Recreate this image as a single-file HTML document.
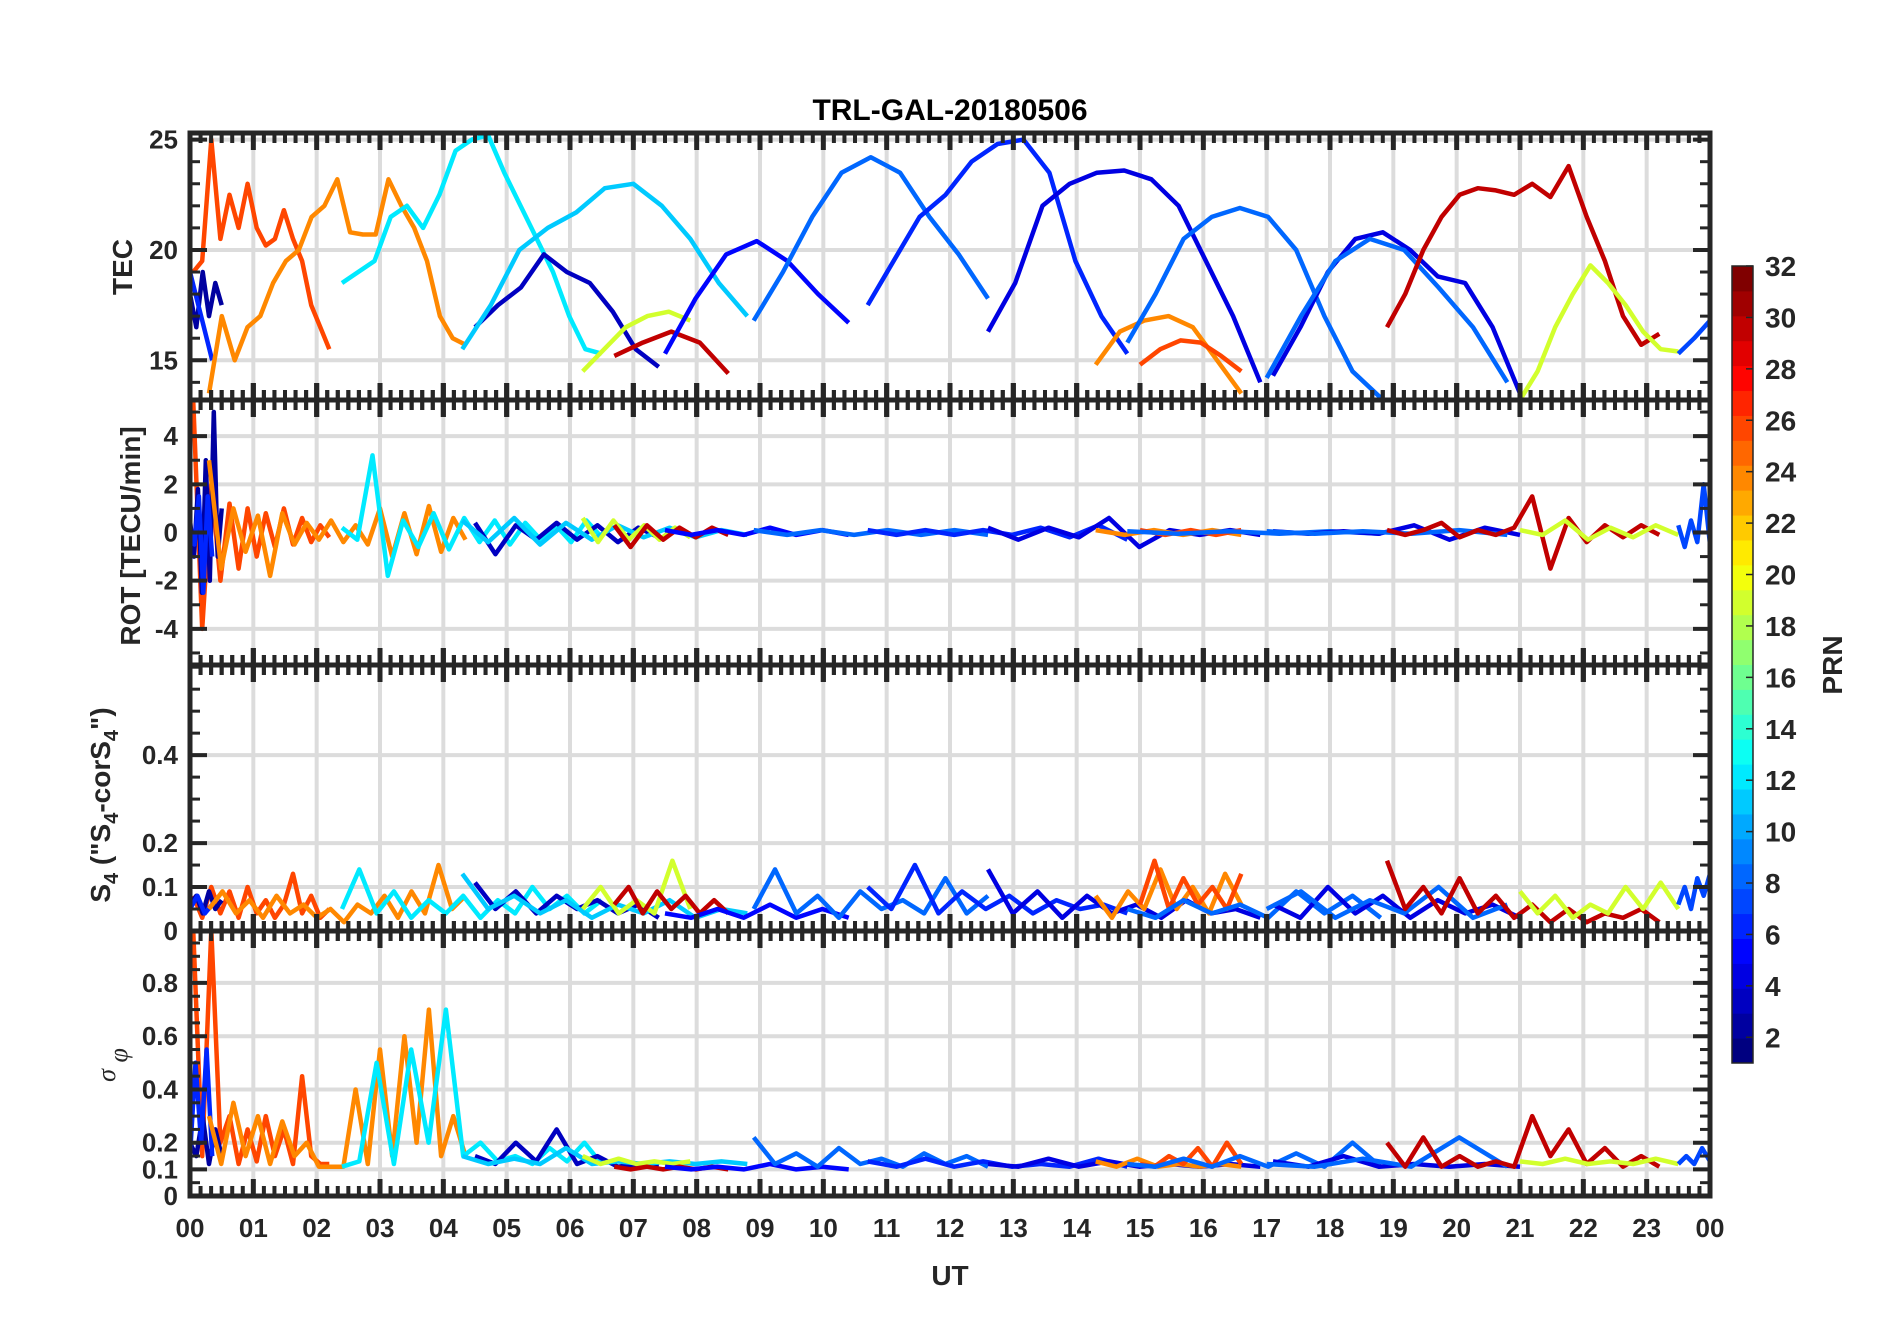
<!DOCTYPE html>
<html><head><meta charset="utf-8"><style>
body{margin:0;background:#fff;}
svg text{font-family:"Liberation Sans",sans-serif;font-weight:bold;fill:#262626;}
</style></head><body>
<svg id="chart" width="1902" height="1330" viewBox="0 0 1902 1330" xmlns="http://www.w3.org/2000/svg">
<rect x="0" y="0" width="1902" height="1330" fill="#fff"/>
<text x="950" y="120" text-anchor="middle" font-size="30" style="fill:#000">TRL-GAL-20180506</text>
<g id="grid"></g>
<g id="series"></g>
<g id="axes"></g>
<g id="cbar"></g>
<text transform="translate(132,267) rotate(-90)" text-anchor="middle" font-size="28">TEC</text>
<text transform="translate(140,536) rotate(-90)" text-anchor="middle" font-size="28">ROT [TECU/min]</text>
<text transform="translate(110,805) rotate(-90)" text-anchor="middle" font-size="28">S<tspan font-size="20" dy="8">4</tspan><tspan dy="-8"> ("S</tspan><tspan font-size="20" dy="8">4</tspan><tspan dy="-8">-corS</tspan><tspan font-size="20" dy="8">4</tspan><tspan dy="-8">")</tspan></text>
<text transform="translate(115,1065) rotate(-90)" text-anchor="middle" font-size="26" style="font-family:'Liberation Serif',serif;font-weight:normal;font-style:italic">σ <tspan dy="12">φ</tspan></text>
<text x="950" y="1285" text-anchor="middle" font-size="28">UT</text>
<text transform="translate(1842,665) rotate(-90)" text-anchor="middle" font-size="28">PRN</text>
</svg>
<script>
const prns=[26,2,6,24,12,3,11,19,30,5,8,6,4,24,26,8,4,8,30,19,7];
const starts=[0.05,0,0,0.3,2.4,4.5,4.3,6.2,6.7,7.5,8.9,10.7,12.6,14.3,15.0,14.8,17.1,17.0,18.9,21.0,23.5];
const ends=[2.2,0.5,0.35,4.35,6.5,7.4,8.8,7.9,8.5,10.4,12.6,14.8,16.9,16.6,16.6,18.8,21.0,20.8,23.2,23.5,24];
const tecValues=[
[19,19.5,25,20.5,22.5,21,23,21,20.2,20.5,21.8,20.5,19.5,17.5,16.5,15.5],
[18,16.5,19,17,18.5,17.5],
[19,17,15],
[13.5,17,15,16.5,17,18.5,19.5,20,21.5,22,23.2,20.8,20.7,20.7,23.2,22,21,19.5,17,16,15.7],
[18.5,19,19.5,21.5,22,21,22.5,24.5,25,25.2,23.5,22,20.5,19,17,15.5,15.3],
[16.5,17.5,18.3,19.8,19,18.5,17.2,15.5,14.7],
[15.5,17.5,20,21,21.7,22.8,23,22,20.5,18.5,17],
[14.5,15.5,16.5,17,17.2,16.8],
[15.2,15.8,16.3,15.8,14.4],
[15.3,17.8,19.8,20.4,19.5,18,16.7],
[16.8,19,21.5,23.5,24.2,23.5,21.5,19.8,17.8],
[17.5,19.5,21.5,22.5,24,24.8,25,23.5,19.5,17,15.3],
[16.3,18.5,22,23,23.5,23.6,23.2,22,19.5,17,14],
[14.8,16.3,16.8,17,16.5,15,13.5],
[14.8,15.5,15.9,15.8,15.2,14.5],
[15.8,18,20.5,21.5,21.9,21.5,20,17,14.5,13.3],
[14.3,16.5,19,20.5,20.8,20,18.8,18.5,16.5,13.5],
[14.2,17,19.5,20.5,20,18.3,16.5,14],
[16.5,18,20,21.5,22.5,22.8,22.7,22.5,23,22.4,23.8,21.5,19.5,17,15.7,16.2],
[13.2,14.5,16.5,18,19.3,18.5,17.5,16.3,15.5,15.4],
[15.3,16,16.8]];
const rotValues=[
[5.5,-4,2,-2,1.2,-1.5,1,-1,0.8,-0.6,1,-0.5,0.6,-0.4,0.3,-0.2],
[0.5,-1,1.8,-2.5,3,-2,5,-1,1],
[0,-0.5,1.5,-2.5,1.5,-1],
[3,-1.5,1,-0.8,0.7,-1.8,0.8,-0.5,0.4,-0.3,0.5,-0.4,0.3,-0.5,1,-1,0.8,-0.9,1.1,-0.8,0.6,-0.3],
[0.2,-0.3,3.2,-1.8,0.5,-0.6,0.8,-0.7,0.6,-0.4,0.5,-0.5,0.4,-0.3,0.3,-0.4,0.5,-0.2],
[0.4,-0.9,0.3,-0.3,0.4,-0.3,0.3,-0.4,0.2,-0.2],
[0.5,-0.4,0.6,-0.5,0.4,-0.3,0.3,-0.2,0.2,-0.2,0.1,-0.1],
[0.6,-0.4,0.5,-0.3,0.3,-0.3,0.2,-0.2],
[0.3,-0.6,0.3,-0.3,0.2,-0.2,0.2,-0.1],
[0.1,-0.1,0.1,-0.1,0.2,-0.1,0.1,-0.1],
[0.1,-0.1,0.1,-0.1,0.1,-0.1,0.1,-0.1],
[0.1,-0.1,0.1,-0.1,0.1,-0.1,0.2,-0.2,0.3,-0.3],
[0.2,-0.3,0.2,-0.2,0.6,-0.6,0.1,-0.1,0.1,-0.1],
[0.1,-0.1,0.1,-0.1,0.1,-0.1],
[0.1,-0.1,0.1,-0.1,0.1],
[0.05,-0.05,0.05,-0.05,0.05,-0.05],
[0.05,-0.05,0.05,-0.05,0.3,-0.3,0.2,-0.1],
[0.05,-0.05,0.05,-0.05,0.1,-0.1],
[0.1,-0.1,0.1,0.4,-0.2,0.1,-0.1,0.2,1.5,-1.5,0.6,-0.4,0.3,-0.2,0.3,-0.1],
[0.1,-0.1,0.5,-0.3,0.2,-0.2,0.3,-0.1],
[0.3,-0.6,0.5,-0.4,2,-0.5]];
const s4Values=[
[0.08,0.03,0.1,0.04,0.09,0.03,0.1,0.04,0.07,0.03,0.06,0.13,0.04,0.08,0.03,0.05],
[0.06,0.08,0.04,0.09,0.05,0.07],
[0.05,0.08,0.04,0.06],
[0.05,0.09,0.04,0.07,0.03,0.08,0.04,0.06,0.03,0.05,0.02,0.06,0.04,0.08,0.03,0.09,0.04,0.15,0.05,0.08],
[0.05,0.14,0.04,0.09,0.03,0.07,0.04,0.08,0.03,0.07,0.04,0.1,0.05,0.08,0.04,0.07],
[0.11,0.05,0.09,0.04,0.08,0.05,0.07,0.04,0.06,0.03],
[0.13,0.05,0.08,0.04,0.07,0.03,0.06,0.04,0.07,0.03,0.05,0.04],
[0.05,0.1,0.04,0.07,0.04,0.16,0.05],
[0.06,0.1,0.04,0.09,0.05,0.08,0.04,0.07,0.04],
[0.04,0.03,0.05,0.03,0.06,0.03,0.05,0.03],
[0.05,0.14,0.04,0.08,0.03,0.09,0.05,0.07,0.04,0.12,0.04,0.08],
[0.1,0.05,0.15,0.04,0.09,0.05,0.08,0.04,0.07,0.05,0.06,0.04],
[0.14,0.04,0.09,0.03,0.08,0.04,0.06,0.03,0.07,0.04,0.05,0.03],
[0.08,0.03,0.09,0.05,0.14,0.05,0.1,0.04,0.13,0.06],
[0.06,0.16,0.05,0.12,0.06,0.1,0.05,0.13],
[0.05,0.03,0.07,0.04,0.06,0.03,0.09,0.04,0.08,0.03],
[0.06,0.03,0.1,0.04,0.08,0.03,0.07,0.04,0.06,0.03],
[0.05,0.09,0.03,0.07,0.04,0.1,0.03,0.06],
[0.16,0.05,0.1,0.04,0.12,0.04,0.08,0.03,0.06,0.02,0.05,0.02,0.04,0.03,0.05,0.02],
[0.09,0.04,0.08,0.03,0.06,0.04,0.1,0.05,0.11,0.05],
[0.06,0.1,0.05,0.12,0.08,0.13]];
const sigValues=[
[1,0.15,1,0.2,0.3,0.12,0.25,0.13,0.3,0.15,0.25,0.12,0.45,0.15,0.12,0.12],
[0.2,0.15,0.3,0.12,0.25,0.15],
[0.15,0.5,0.2,0.55,0.15],
[0.3,0.12,0.35,0.15,0.3,0.12,0.28,0.15,0.2,0.11,0.11,0.11,0.4,0.12,0.55,0.15,0.6,0.2,0.7,0.15,0.3,0.15],
[0.11,0.13,0.5,0.12,0.55,0.2,0.7,0.15,0.2,0.13,0.15,0.12,0.18,0.13,0.2,0.12],
[0.15,0.12,0.2,0.13,0.25,0.12,0.15,0.11,0.12,0.11],
[0.15,0.12,0.14,0.12,0.18,0.12,0.13,0.12,0.13,0.12,0.13,0.12],
[0.15,0.12,0.14,0.12,0.13,0.12,0.13],
[0.11,0.1,0.11,0.1,0.11,0.1,0.11,0.1],
[0.11,0.1,0.11,0.1,0.12,0.1,0.11,0.1],
[0.22,0.12,0.16,0.11,0.18,0.12,0.14,0.11,0.16,0.12,0.15,0.11],
[0.13,0.11,0.14,0.11,0.13,0.11,0.12,0.11,0.14,0.11],
[0.12,0.11,0.14,0.11,0.13,0.11,0.12,0.11,0.12,0.11],
[0.13,0.11,0.14,0.11,0.12,0.11,0.12,0.11],
[0.12,0.11,0.15,0.12,0.18,0.11,0.2,0.12],
[0.12,0.11,0.14,0.11,0.15,0.11,0.16,0.11,0.2,0.11],
[0.13,0.11,0.15,0.11,0.12,0.11,0.12,0.11],
[0.12,0.11,0.14,0.11,0.22,0.11],
[0.2,0.11,0.22,0.11,0.15,0.11,0.13,0.11,0.3,0.15,0.25,0.12,0.18,0.11,0.15,0.11],
[0.13,0.12,0.14,0.12,0.13,0.12,0.14,0.12],
[0.12,0.15,0.12,0.18,0.13]];
const xTickLabels=["00","01","02","03","04","05","06","07","08","09","10","11","12","13","14","15","16","17","18","19","20","21","22","23","00"];
const tecTicks=[15,20,25];
const rotTicks=[-4,-2,0,2,4];
const s4Ticks=[0,0.1,0.2,0.4];
const sigTicks=[0,0.1,0.2,0.4,0.6,0.8];
const cbarTicks=[2,4,6,8,10,12,14,16,18,20,22,24,26,28,30,32];

const NS='http://www.w3.org/2000/svg';
const X0=190,X1=1710;
const xs=h=>X0+(X1-X0)*h/24;
const panels=[
 {name:'tec',top:133,bot:400,ymin:13.2,ymax:25.3,ticks:tecTicks,minor:1,data:tecValues,sw:4.5},
 {name:'rot',top:400,bot:665,ymin:-5.5,ymax:5.5,ticks:rotTicks,minor:1,data:rotValues,sw:4.5},
 {name:'s4',top:665,bot:931,ymin:0,ymax:0.605,ticks:s4Ticks,minor:0.05,data:s4Values,sw:4.5},
 {name:'sigma',top:931,bot:1196,ymin:0,ymax:0.995,ticks:sigTicks,minor:0.05,data:sigValues,sw:4.5}
];
function mk(tag,attrs,parent){const e=document.createElementNS(NS,tag);for(const k in attrs)e.setAttribute(k,attrs[k]);parent.appendChild(e);return e;}
function jet(i,n){const x=i/(n-1);const c=v=>Math.max(0,Math.min(1,v));
 const r=c(Math.min(4*x-1.5,-4*x+4.5)),g=c(Math.min(4*x-0.5,-4*x+3.5)),b=c(Math.min(4*x+0.5,-4*x+2.5));
 return `rgb(${Math.round(r*255)},${Math.round(g*255)},${Math.round(b*255)})`;}
function prnColor(p){const idx=Math.max(0,Math.min(31,Math.floor((p-1)/31*32)));return jet(idx,32);}
const grid=document.getElementById('grid'),series=document.getElementById('series'),axes=document.getElementById('axes'),cbar=document.getElementById('cbar');
const defs=mk('defs',{},document.getElementById('chart'));
panels.forEach((P,pi)=>{
 const ys=v=>P.bot-(v-P.ymin)/(P.ymax-P.ymin)*(P.bot-P.top);
 const cp=mk('clipPath',{id:'clip'+pi},defs);mk('rect',{x:X0,y:P.top,width:X1-X0,height:P.bot-P.top},cp);
 for(let h=1;h<24;h++){const l=mk('line',{x1:xs(h),x2:xs(h),y1:P.top,y2:P.bot,stroke:'#dcdcdc','stroke-width':4},grid);
  }
 P.ticks.forEach(t=>{const y=ys(t);if(t!==0&&y>P.top+4&&y<P.bot-4){const l=mk('line',{x1:X0,x2:X1,y1:y,y2:y,stroke:'#dcdcdc','stroke-width':4},grid);
  }
  const tx=mk('text',{x:X0-12,y:y+9,'text-anchor':'end','font-size':26},axes);tx.textContent=String(t);
  
  const tk=mk('line',{x1:X0,x2:X0+17,y1:y,y2:y,stroke:'#262626','stroke-width':4},axes);
  
  const tk2=mk('line',{x1:X1-17,x2:X1,y1:y,y2:y,stroke:'#262626','stroke-width':4},axes);
  });
 for(let v=Math.ceil(P.ymin/P.minor)*P.minor;v<=P.ymax;v+=P.minor){const y=ys(v);
  const m=mk('line',{x1:X0,x2:X0+10,y1:y,y2:y,stroke:'#262626','stroke-width':3},axes);
  
  const m2=mk('line',{x1:X1-10,x2:X1,y1:y,y2:y,stroke:'#262626','stroke-width':3},axes);
  }
 const g=mk('g',{'clip-path':`url(#clip${pi})`},series);
 
 P.data.forEach((vals,ai)=>{const n=vals.length;const pts=vals.map((v,k)=>`${xs(starts[ai]+(ends[ai]-starts[ai])*(n>1?k/(n-1):0)).toFixed(1)},${ys(v).toFixed(1)}`).join(' ');
  const pl=mk('polyline',{points:pts,fill:'none',stroke:prnColor(prns[ai]),'stroke-width':P.sw,'stroke-linejoin':'round'},g);
  });
 const fl=mk('rect',{x:X0,y:P.top,width:X1-X0,height:P.bot-P.top,fill:'none',stroke:'#262626','stroke-width':5},axes);
 
 [P.top,P.bot].forEach(yy=>{for(let k=0;k<=144;k++){const x=xs(k/6);const maj=k%6===0;const L=maj?17:10;
  const y1=(yy===133)?yy:yy-L, y2=(yy===1196)?yy:yy+L;
  const t=mk('line',{x1:x,x2:x,y1:y1,y2:y2,stroke:'#262626','stroke-width':maj?5:4},axes);
  }});
});
xTickLabels.forEach((lab,i)=>{const t=mk('text',{x:xs(i),y:1237,'text-anchor':'middle','font-size':26},axes);t.textContent=lab;
 });
const CT=266,CB=1063,CX=1732,CW=21;
for(let i=0;i<32;i++){const h=(CB-CT)/32;const r=mk('rect',{x:CX,y:CB-(i+1)*h,width:CW,height:h+0.5,fill:jet(i,32)},cbar);
 }
const cf=mk('rect',{x:CX,y:CT,width:CW,height:CB-CT,fill:'none',stroke:'#262626','stroke-width':1.5},cbar);

const cy=v=>CB-(v-1)/31*(CB-CT);
cbarTicks.forEach(v=>{const y=cy(v);const l=mk('line',{x1:CX+CW-7,x2:CX+CW,y1:y,y2:y,stroke:'#262626','stroke-width':1.5},cbar);
 
 const t=mk('text',{x:CX+CW+12,y:y+10,'font-size':28},cbar);t.textContent=String(v);
 });
</script>
</body></html>
